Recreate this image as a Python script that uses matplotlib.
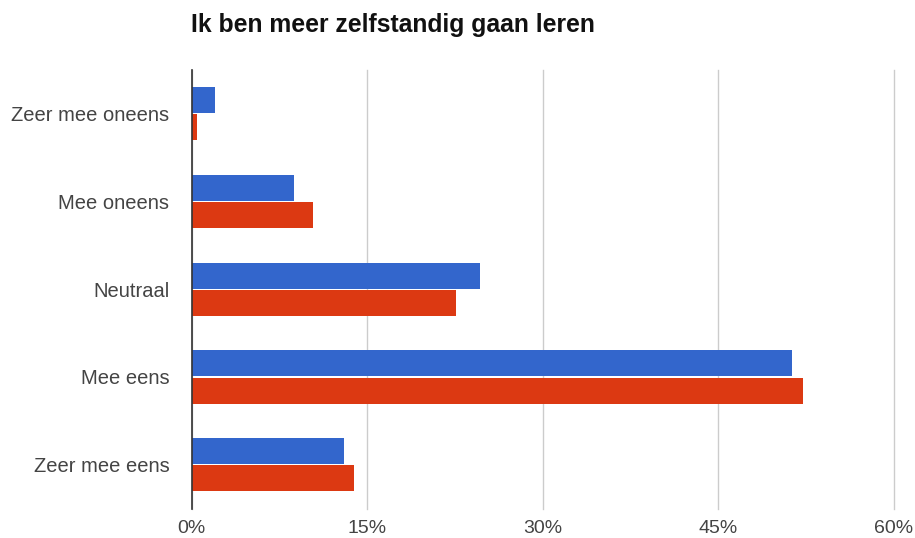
import matplotlib
matplotlib.use("Agg")
import matplotlib.pyplot as plt
import numpy as np

categories = ["Zeer mee oneens", "Mee oneens", "Neutraal", "Mee eens", "Zeer mee eens"]
series_a = [2.0, 8.7, 24.6, 51.3, 13.0]
series_b = [0.43, 10.4, 22.6, 52.25, 13.9]
x_ticks = [0, 15, 30, 45, 60]
x_tick_labels = ["0%", "15%", "30%", "45%", "60%"]
title = "Ik ben meer zelfstandig gaan leren"

plt.rcParams["font.family"] = ["Liberation Sans", "DejaVu Sans"]

fig = plt.figure(figsize=(9.15, 5.38), dpi=100)
ax = fig.add_axes([0.2095, 0.0548, 0.7676, 0.815])

y = np.arange(len(categories))
h = 0.297
gap = 0.012
ax.barh(y - h / 2 - gap / 2, series_a, height=h, color="#3366CC", zorder=3)
ax.barh(y + h / 2 + gap / 2, series_b, height=h, color="#DC3912", zorder=3)

ax.set_ylim(len(categories) - 0.5, -0.5)
ax.set_xlim(0, 60)
ax.set_yticks(y)
ax.set_yticklabels(categories, fontsize=14.5, color="#444444")
ax.set_xticks(x_ticks)
ax.set_xticklabels(x_tick_labels, fontsize=14, color="#444444")
ax.tick_params(axis="y", length=0, pad=16)
ax.tick_params(axis="x", length=0, pad=8)

ax.grid(axis="x", color="#cccccc", linewidth=1, zorder=0)
for gl in ax.get_xgridlines():
    gl.set_clip_on(False)
for s in ["top", "right", "bottom"]:
    ax.spines[s].set_visible(False)
ax.spines["left"].set_color("#333333")
ax.spines["left"].set_linewidth(1.2)
ax.spines["left"].set_zorder(4)

fig.text(191 / 915, 1 - 25 / 538, title, fontsize=17.8, fontweight="bold",
         color="#111111", ha="left", va="center")

fig.savefig("out.png", dpi=100, facecolor="white")
